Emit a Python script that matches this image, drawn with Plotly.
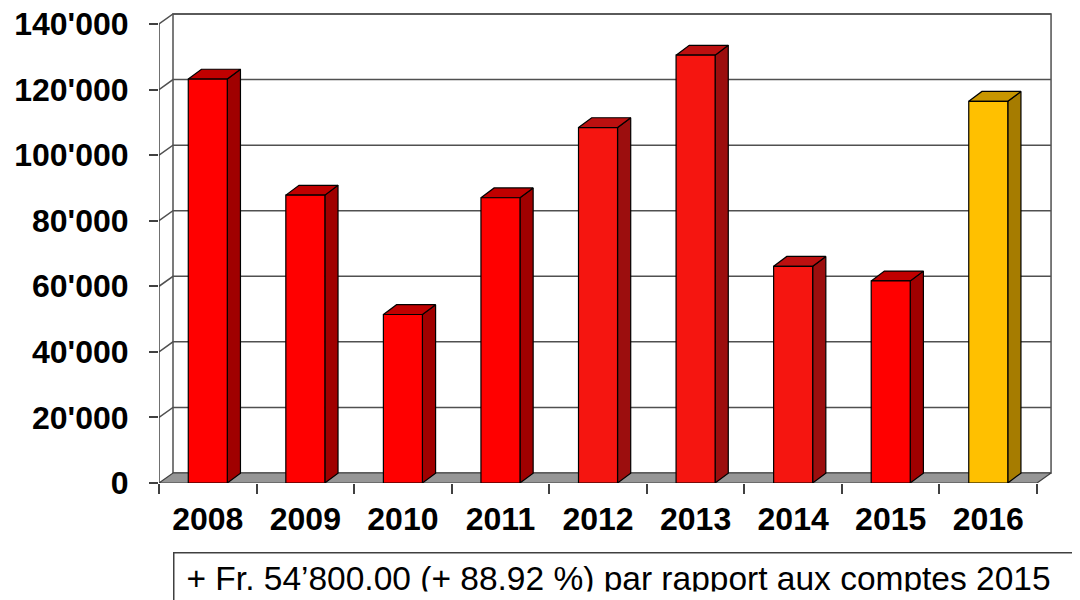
import plotly.graph_objects as go

# ---------------- data ----------------
years = ["2008", "2009", "2010", "2011", "2012", "2013", "2014", "2015", "2016"]
values = [123200, 87800, 51400, 87000, 108400, 130500, 66100, 61630, 116430]
y_ticks = [0, 20000, 40000, 60000, 80000, 100000, 120000, 140000]
y_tick_labels = ["0", "20'000", "40'000", "60'000", "80'000", "100'000", "120'000", "140'000"]
caption = "+ Fr. 54\u2019800.00 (+ 88.92 %) par rapport aux comptes 2015"

# ---------------- style ----------------
BAR_HALF = 0.2          # half width of a bar (category units)
BAR_DX, BAR_DY = 0.135, 3000     # 3-D depth of bars
WALL_DX, WALL_DY = 0.1435, 3050  # 3-D depth of floor / walls
PALETTE = {
    "red": ("#FF0000", "#C00000", "#A00000"),
    "red2": ("#F51510", "#BC1010", "#9C0E0E"),
    "gold": ("#FFC000", "#C89600", "#A67C00"),
}
bar_style = ["red", "red", "red", "red", "red2", "red2", "red2", "red", "gold"]
EDGE = "#404040"
GRID = "#505050"
FONT = "Arial, Liberation Sans, sans-serif"

fig = go.Figure()

def poly(xs, ys, fill, line_color=EDGE, width=1.2):
    fig.add_trace(go.Scatter(
        x=xs + [xs[0]], y=ys + [ys[0]], mode="lines", fill="toself",
        fillcolor=fill, line=dict(color=line_color, width=width),
        hoverinfo="skip", showlegend=False, cliponaxis=False))

def line(xs, ys, color=GRID, width=1.5):
    fig.add_trace(go.Scatter(
        x=xs, y=ys, mode="lines", line=dict(color=color, width=width),
        hoverinfo="skip", showlegend=False, cliponaxis=False))

n = len(years)
x_left, x_right = -0.5, n - 0.5
y_top = y_ticks[-1]

# back wall
poly([x_left + WALL_DX, x_right + WALL_DX, x_right + WALL_DX, x_left + WALL_DX],
     [WALL_DY, WALL_DY, y_top + WALL_DY, y_top + WALL_DY], "#FFFFFF", GRID, 1.5)

# gridlines on back wall and left wall
gx, gy = [], []
for t in y_ticks[1:]:
    gx += [x_left, x_left + WALL_DX, x_right + WALL_DX, None]
    gy += [t, t + WALL_DY, t + WALL_DY, None]
line(gx, gy)

# floor
poly([x_left, x_right, x_right + WALL_DX, x_left + WALL_DX],
     [0, 0, WALL_DY, WALL_DY], "#969696", EDGE, 1.2)

# front vertical axis line
line([x_left, x_left], [0, y_top], EDGE, 1.5)

# bars
for i, v in enumerate(values):
    front, top, side = PALETTE[bar_style[i]]
    xl, xr = i - BAR_HALF, i + BAR_HALF
    poly([xr, xr + BAR_DX, xr + BAR_DX, xr], [0, BAR_DY, v + BAR_DY, v], side, "#000000", 1.2)
    poly([xl, xr, xr + BAR_DX, xl + BAR_DX], [v, v, v + BAR_DY, v + BAR_DY], top, "#000000", 1.2)
    poly([xl, xr, xr, xl], [0, 0, v, v], front, "#000000", 1.2)

# page body has an 8px margin -> figure is 1072x592 so that it ends at the window edge
fig.update_layout(
    width=1072, height=592,
    margin=dict(l=151, r=5, t=2, b=117, autoexpand=False),
    paper_bgcolor="white", plot_bgcolor="white",
    font=dict(family=FONT, color="#000000"),
    showlegend=False,
    xaxis=dict(
        range=[x_left, 8.889], tickmode="array", tickvals=list(range(n)), ticktext=years,
        ticks="", showgrid=False, zeroline=False, showline=False, automargin=False,
        tickfont=dict(family=FONT, size=32, weight="bold", color="#000000"),
        ticklabelstandoff=14, ticklabeloverflow="allow",
        minor=dict(tickmode="array", tickvals=[i - 0.5 for i in range(n + 1)],
                   ticks="outside", ticklen=10, tickwidth=1.5, tickcolor=EDGE, showgrid=False),
        fixedrange=True,
    ),
    yaxis=dict(
        range=[0, 144270], tickmode="array", tickvals=y_ticks, ticktext=y_tick_labels,
        ticks="outside", ticklen=9, tickwidth=1.5, tickcolor=EDGE, automargin=False,
        showgrid=False, zeroline=False, showline=False,
        tickfont=dict(family=FONT, size=32, weight="bold", color="#000000"),
        ticklabelstandoff=14, ticklabeloverflow="allow", fixedrange=True,
    ),
    annotations=[dict(
        text=caption, xref="paper", yref="paper",
        x=14 / 916, y=(483 - 552) / 473, xanchor="left", yanchor="top",
        showarrow=False, align="left", valign="middle",
        width=940, height=26, borderpad=12, bordercolor=EDGE, borderwidth=1.5,
        bgcolor="white", font=dict(family=FONT, size=33.5, color="#000000"),
    )],
)

fig.write_html("out.html")
